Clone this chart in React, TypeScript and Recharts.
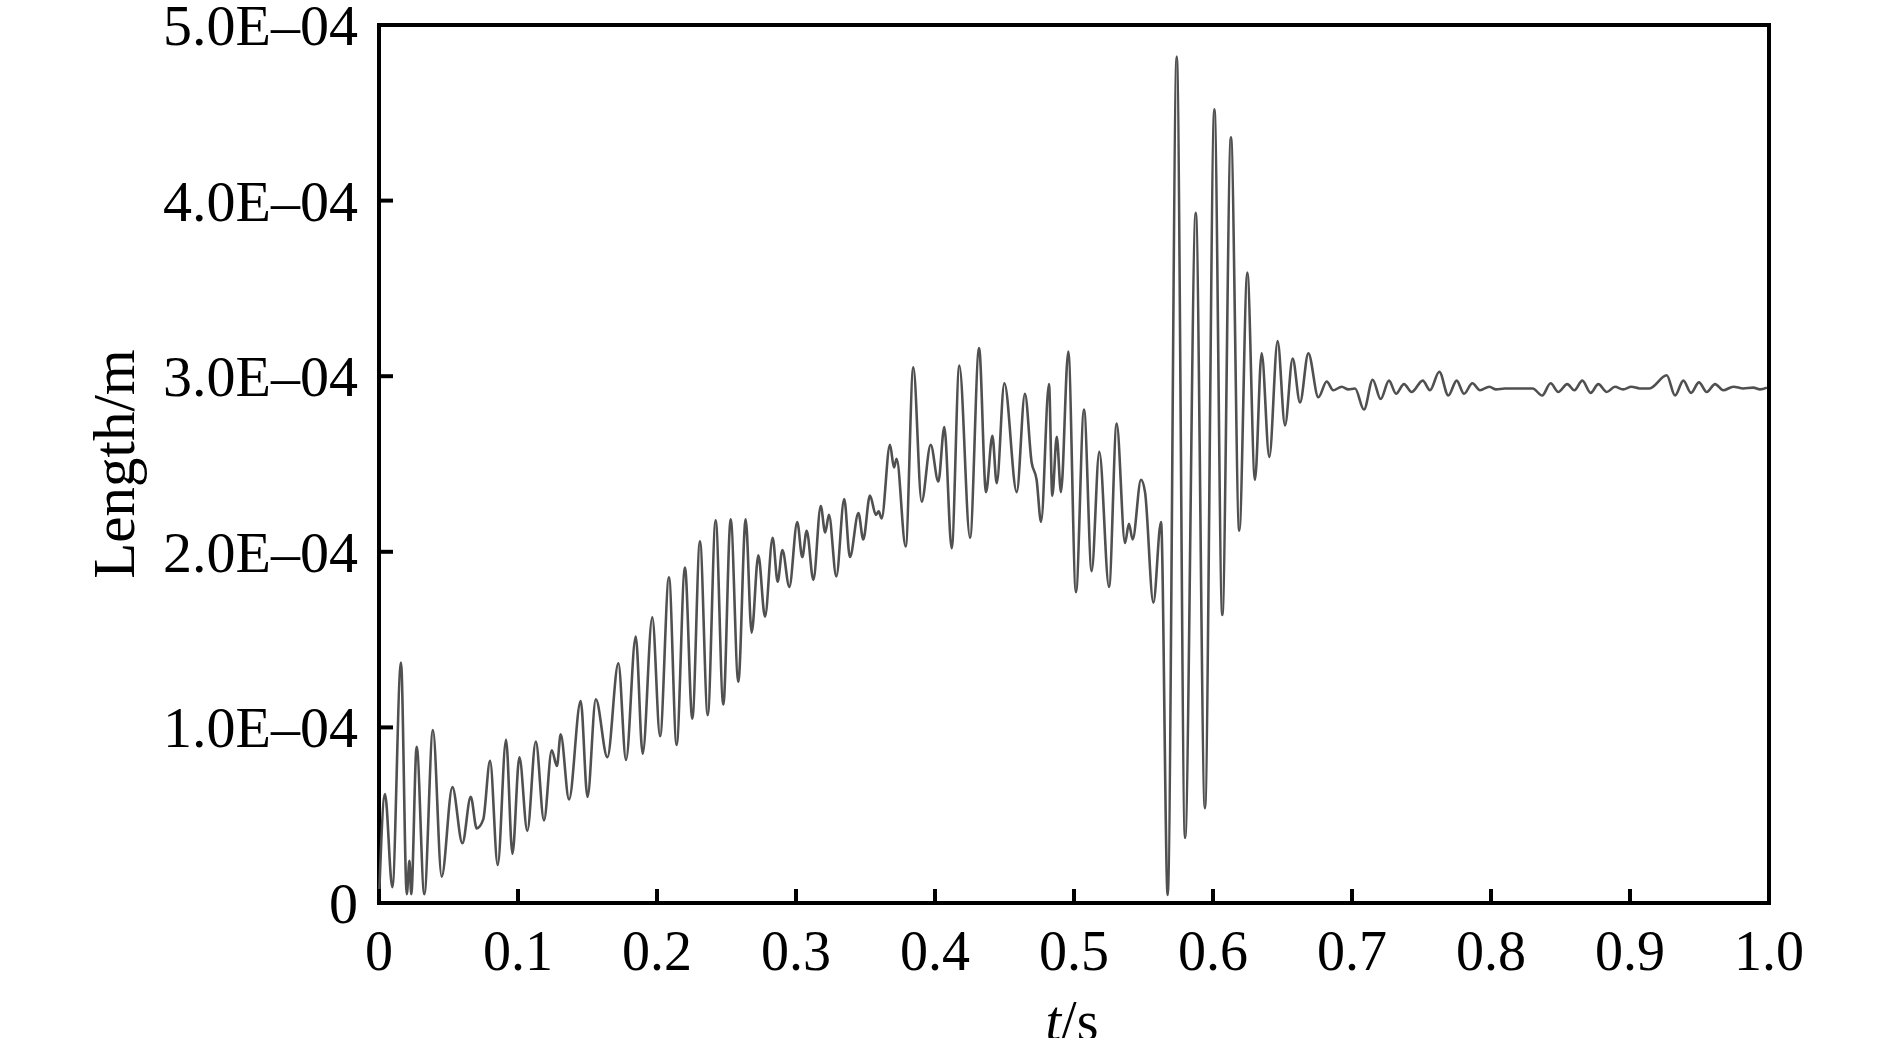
import React from "react";
import { LineChart, Line, XAxis, YAxis, ReferenceArea } from "recharts";

// time (s) and length (x 1E-04 m) read at the turning points of the trace
const TIME_S = [
  0, 0.0043, 0.0096, 0.0158, 0.02, 0.0219, 0.0232, 0.0271, 0.0326, 0.0388,
  0.0451, 0.0528, 0.06, 0.066, 0.0703, 0.075, 0.0799, 0.0854, 0.0914, 0.096,
  0.101, 0.1067, 0.1128, 0.1187, 0.1243, 0.128, 0.1307, 0.1367, 0.1451, 0.15,
  0.156, 0.1643, 0.1722, 0.1777, 0.1847, 0.1897, 0.1966, 0.2022, 0.2086, 0.2141,
  0.2201, 0.2254, 0.2309, 0.2365, 0.2422, 0.2477, 0.253, 0.2585, 0.2638, 0.2681,
  0.2729, 0.2777, 0.2832, 0.2868, 0.2902, 0.2952, 0.3009, 0.3045, 0.3077, 0.3125,
  0.3178, 0.321, 0.3237, 0.329, 0.3347, 0.3388, 0.3449, 0.3484, 0.3532, 0.3575,
  0.3595, 0.3616, 0.3676, 0.3705, 0.3724, 0.3789, 0.3844, 0.3904, 0.3969, 0.4024,
  0.4067, 0.412, 0.4175, 0.4252, 0.4317, 0.4367, 0.4413, 0.4444, 0.4499, 0.4588,
  0.4647, 0.4695, 0.4731, 0.4763, 0.482, 0.4844, 0.4876, 0.4906, 0.4959, 0.5014,
  0.5072, 0.5127, 0.5182, 0.5252, 0.5307, 0.5367, 0.5395, 0.5422, 0.5482, 0.5511,
  0.5571, 0.5626, 0.5674, 0.5739, 0.5799, 0.5876, 0.5942, 0.601, 0.6067, 0.6129,
  0.6189, 0.6247, 0.6302, 0.635, 0.6405, 0.6465, 0.6518, 0.6573, 0.6626, 0.6686,
  0.6758, 0.6818, 0.6865, 0.6926, 0.6974, 0.7022, 0.7086, 0.7149, 0.7206, 0.7266,
  0.7317, 0.7374, 0.7429, 0.7509, 0.7561, 0.7628, 0.7693, 0.7753, 0.7806, 0.7866,
  0.7921, 0.7988, 0.8036, 0.81, 0.82, 0.83, 0.8368, 0.8429, 0.8484, 0.8549,
  0.86, 0.8657, 0.8717, 0.8772, 0.8833, 0.8892, 0.895, 0.901, 0.907, 0.914,
  0.9264, 0.9324, 0.9384, 0.9439, 0.9496, 0.9552, 0.9612, 0.9671, 0.9743, 0.9815,
  0.9887, 0.9935, 0.9985,
];

const LENGTH_E4 = [
  0.02, 0.62, 0.09, 1.37, 0.05, 0.24, 0.05, 0.89, 0.05, 0.985,
  0.15, 0.66, 0.34, 0.605, 0.425, 0.476, 0.81, 0.216, 0.93, 0.28,
  0.83, 0.41, 0.92, 0.47, 0.87, 0.78, 0.96, 0.59, 1.15, 0.605,
  1.16, 0.83, 1.365, 0.814, 1.517, 0.85, 1.627, 0.95, 1.855, 0.9,
  1.91, 1.05, 2.06, 1.07, 2.18, 1.13, 2.185, 1.26, 2.185, 1.54,
  1.98, 1.63, 2.08, 1.83, 2.01, 1.8, 2.17, 1.97, 2.12, 1.84,
  2.26, 2.11, 2.21, 1.86, 2.3, 1.97, 2.22, 2.07, 2.32, 2.21,
  2.23, 2.19, 2.61, 2.48, 2.53, 2.03, 3.05, 2.285, 2.61, 2.4,
  2.71, 2.02, 3.06, 2.08, 3.16, 2.34, 2.66, 2.39, 2.96, 2.34,
  2.9, 2.51, 2.41, 2.17, 2.955, 2.32, 2.655, 2.34, 3.14, 1.77,
  2.81, 1.89, 2.57, 1.8, 2.73, 2.05, 2.16, 2.07, 2.41, 2.34,
  1.71, 2.17, 0.046, 4.82, 0.37, 3.93, 0.54, 4.52, 1.64, 4.36,
  2.12, 3.59, 2.41, 3.13, 2.54, 3.2, 2.72, 3.1, 2.85, 3.13,
  2.88, 2.97, 2.92, 2.94, 2.925, 2.93, 2.81, 2.98, 2.87, 2.975,
  2.9, 2.955, 2.91, 2.975, 2.92, 3.025, 2.89, 2.975, 2.9, 2.96,
  2.92, 2.94, 2.925, 2.93, 2.93, 2.93, 2.89, 2.96, 2.91, 2.955,
  2.92, 2.975, 2.905, 2.955, 2.91, 2.94, 2.925, 2.94, 2.93, 2.93,
  3.005, 2.89, 2.975, 2.905, 2.965, 2.91, 2.955, 2.92, 2.94, 2.93,
  2.935, 2.925, 2.935,
];

const X_TICKS = [0, 0.1, 0.2, 0.3, 0.4, 0.5, 0.6, 0.7, 0.8, 0.9, 1.0];
const Y_TICKS = [0, 1, 2, 3, 4, 5];

const data = TIME_S.map((t, i) => ({ t, len: LENGTH_E4[i] }));

const W = 1890;
const H = 1038;
const PLOT_LEFT = 379;
const PLOT_BOTTOM = 903;
const FONT = '"Liberation Serif", "Times New Roman", serif';
const FS = 56;
const FS_Y = 58;
const TICK_LEN = 14;

function XTick({ x, payload }: any) {
  const v = payload.value as number;
  return (
    <g>
      <line x1={x} y1={PLOT_BOTTOM} x2={x} y2={PLOT_BOTTOM - TICK_LEN} stroke="#000" strokeWidth={4} />
      <text x={x} y={970} textAnchor="middle" fontFamily={FONT} fontSize={FS} fill="#000">
        {v === 0 ? "0" : v.toFixed(1)}
      </text>
    </g>
  );
}

function YTick({ y, payload }: any) {
  const v = payload.value as number;
  return (
    <g>
      <line x1={PLOT_LEFT} y1={y} x2={PLOT_LEFT + TICK_LEN} y2={y} stroke="#000" strokeWidth={4} />
      <text x={358} y={y + 20} textAnchor="end" fontFamily={FONT} fontSize={FS_Y} fill="#000">
        {v === 0 ? "0" : `${v.toFixed(1)}E\u201304`}
      </text>
    </g>
  );
}

export default function App() {
  return (
    <div style={{ position: "absolute", left: 0, top: 0, background: "#fff" }}>
      <LineChart width={W} height={H} data={data} margin={{ top: 25, right: 121, bottom: 35, left: 9 }}>
        <XAxis
          dataKey="t"
          type="number"
          domain={[0, 1]}
          ticks={X_TICKS}
          axisLine={false}
          tickLine={false}
          tick={<XTick />}
          height={100}
          interval={0}
          label={{
            content: () => (
              <text x={1072} y={1040} textAnchor="middle" fontFamily={FONT} fontSize={FS} fill="#000">
                <tspan fontStyle="italic">t</tspan>/s
              </text>
            ),
          }}
        />
        <YAxis
          type="number"
          domain={[0, 5]}
          ticks={Y_TICKS}
          axisLine={false}
          tickLine={false}
          tick={<YTick />}
          width={370}
          interval={0}
          label={{
            content: () => (
              <text
                x={134}
                y={464}
                transform="rotate(-90 134 464)"
                textAnchor="middle"
                fontFamily={FONT}
                fontSize={59}
                fill="#000"
              >
                Length/m
              </text>
            ),
          }}
        />
        <Line
          type="monotone"
          dataKey="len"
          stroke="#505050"
          strokeWidth={2.6}
          dot={false}
          isAnimationActive={false}
        />
        <ReferenceArea x1={0} x2={1} y1={0} y2={5} fill="none" stroke="#000" strokeWidth={4} />
      </LineChart>
    </div>
  );
}
